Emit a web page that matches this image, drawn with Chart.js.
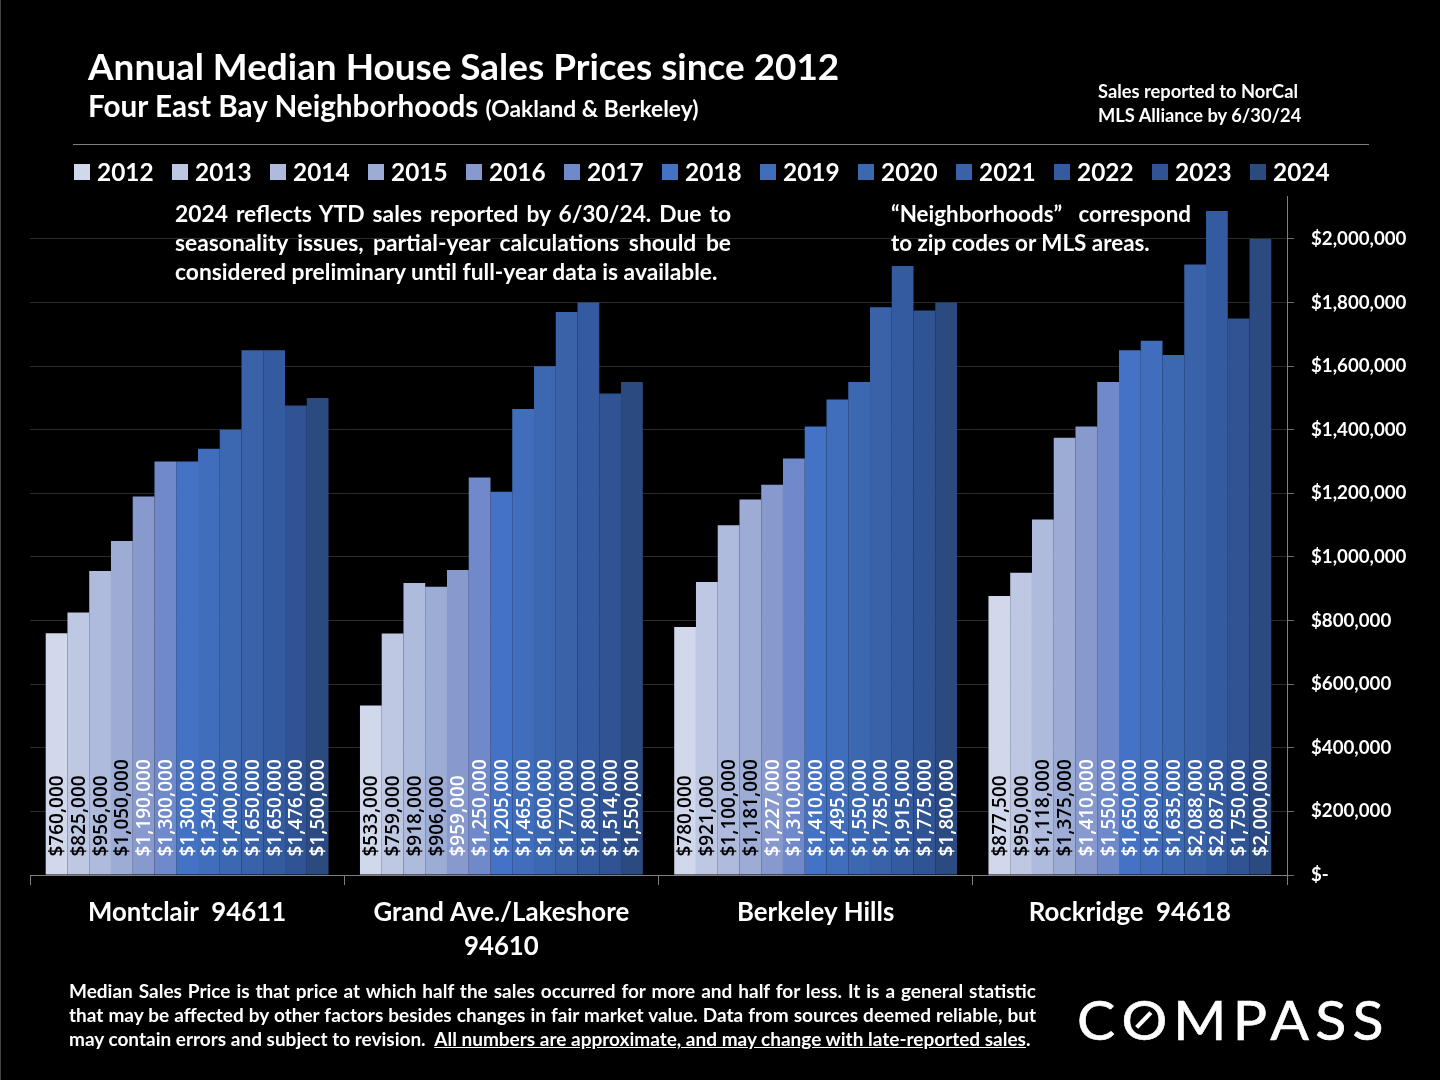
<!DOCTYPE html>
<html>
<head>
<meta charset="utf-8">
<title>Annual Median House Sales Prices since 2012</title>
<script src="https://cdn.jsdelivr.net/npm/chart.js@4"></script>
<style>
  html, body { margin: 0; padding: 0; background: #000; }
  #page { position: relative; width: 1440px; height: 1080px; overflow: hidden; background: #000; color: #fff; font-family: Lato, sans-serif; font-weight: 700; }
  #page::before { content: ""; position: absolute; left: 0; top: 0; bottom: 0; width: 1px; background: #444; }
  canvas { position: absolute; left: 0; top: 0; }
  .txt { position: absolute; white-space: nowrap; }
  .title { left: 88px; top: 44px; font-size: 36.9px; line-height: 44px; }
  .sub { left: 88px; top: 88px; font-size: 29.7px; line-height: 36px; }
  .sub small { font-size: 22.8px; }
  .side { left: 1098px; top: 79px; font-size: 18.3px; line-height: 24px; }
  .rule { position: absolute; left: 73px; top: 144px; width: 1296px; height: 1px; background: #7f7f7f; }
  .note { position: absolute; font-size: 22.8px; line-height: 29px; z-index: 2; }
  .foot { position: absolute; left: 69px; top: 979px; width: 967px; font-size: 19px; line-height: 24px; }
  .jl { text-align: justify; text-align-last: justify; white-space: normal; }
  #legend { position: absolute; left: 0; top: 156px; height: 32px; }
  .item { position: absolute; top: 0; height: 32px; line-height: 32px; font-size: 24.4px; }
  .item i { position: absolute; left: 0; top: 8px; width: 16px; height: 16px; }
  .item span { position: absolute; left: 23px; top: 0; }
  .logo { position: absolute; left: 1077px; top: 985px; font-family: Lato, sans-serif; font-weight: 400; font-size: 54px; line-height: 70px; letter-spacing: 5.8px; white-space: nowrap; transform: scaleX(1.06); transform-origin: left center; -webkit-text-stroke: 0.6px #fff; }
  .logo b { position: relative; font-weight: 400; display: inline-block; }
  .logo b::after { content: ""; position: absolute; left: 50%; top: 50%; width: 20px; height: 4px; margin: -2px 0 0 -13px; background: #fff; transform: rotate(-48deg); }
</style>
</head>
<body>
<div id="page">
  <canvas id="chart" width="1440" height="1080"></canvas>
  <div class="txt title">Annual Median House Sales Prices since 2012</div>
  <div class="txt sub">Four East Bay Neighborhoods <small>(Oakland &amp; Berkeley)</small></div>
  <div class="txt side">Sales reported to NorCal<br>MLS Alliance by 6/30/24</div>
  <div class="rule"></div>
  <div id="legend"></div>
  <div class="note" style="left:175px;top:199px;width:556px">
    <div class="jl">2024 reflects YTD sales reported by 6/30/24. Due to</div>
    <div class="jl">seasonality issues, partial-year calculations should be</div>
    <div>considered preliminary until full-year data is available.</div>
  </div>
  <div class="note" style="left:891px;top:199px;width:300px;font-size:22.4px">
    <div class="jl">“Neighborhoods” correspond</div>
    <div>to zip codes or MLS areas.</div>
  </div>
  <div class="foot">
    <div class="jl">Median Sales Price is that price at which half the sales occurred for more and half for less. It is a general statistic</div>
    <div class="jl">that may be affected by other factors besides changes in fair market value. Data from sources deemed reliable, but</div>
    <div>may contain errors and subject to revision. &nbsp;<u>All numbers are approximate, and may change with late-reported sales</u>.</div>
  </div>
  <div class="logo">C<b>O</b>MPASS</div>
</div>
<script>
const years = ['2012', '2013', '2014', '2015', '2016', '2017', '2018', '2019', '2020', '2021', '2022', '2023', '2024'];
const neighborhoods = ['Montclair  94611', ['Grand Ave./Lakeshore', '94610'], 'Berkeley Hills', 'Rockridge  94618'];
const yearColors = ['#D2D8EB', '#BEC8E3', '#AEBBDD', '#9CACD5', '#8799CD', '#7089CA', '#4472C4', '#406EBC', '#3C67B1', '#3962A9', '#345B9F', '#2F5393', '#2B4A80'];
const yTickValues = [0, 200000, 400000, 600000, 800000, 1000000, 1200000, 1400000, 1600000, 1800000, 2000000];

const montclair = [760000, 825000, 956000, 1050000, 1190000, 1300000, 1300000, 1340000, 1400000, 1650000, 1650000, 1476000, 1500000];
const grandAve = [533000, 759000, 918000, 906000, 959000, 1250000, 1205000, 1465000, 1600000, 1770000, 1800000, 1514000, 1550000];
const berkeleyHills = [780000, 921000, 1100000, 1181000, 1227000, 1310000, 1410000, 1495000, 1550000, 1785000, 1915000, 1775000, 1800000];
const rockridge = [877500, 950000, 1118000, 1375000, 1410000, 1550000, 1650000, 1680000, 1635000, 1920000, 2087500, 1750000, 2000000];
// the printed label for Rockridge 2021 does not match the bar height in the source
const rockridgeLabels = [877500, 950000, 1118000, 1375000, 1410000, 1550000, 1650000, 1680000, 1635000, 2088000, 2087500, 1750000, 2000000];

const groups = [montclair, grandAve, berkeleyHills, rockridge];
const labelGroups = [montclair, grandAve, berkeleyHills, rockridgeLabels];

function money(v) {
  return v === 0 ? '$-' : '$' + v.toLocaleString('en-US');
}

// Vertical value labels sitting at the foot of each bar.
const barLabels = {
  id: 'barLabels',
  afterDatasetsDraw: function (chart) {
    const ctx = chart.ctx;
    chart.data.datasets.forEach(function (ds, i) {
      chart.getDatasetMeta(i).data.forEach(function (bar, j) {
        ctx.save();
        ctx.translate(bar.x, bar.base - 18);
        ctx.rotate(-Math.PI / 2);
        ctx.font = '600 19px "Open Sans", sans-serif';
        ctx.textAlign = 'left';
        ctx.textBaseline = 'middle';
        ctx.fillStyle = i < 4 ? '#000' : '#fff';
        ctx.fillText(money(labelGroups[j][i]), 0, 1);
        ctx.restore();
      });
    });
  }
};

const chart = new Chart(document.getElementById('chart'), {
  type: 'bar',
  data: {
    labels: neighborhoods,
    datasets: years.map(function (year, i) {
      return {
        label: year,
        data: groups.map(function (g) { return g[i]; }),
        backgroundColor: yearColors[i],
        categoryPercentage: 0.9,
        barPercentage: 1
      };
    })
  },
  options: {
    responsive: false,
    animation: false,
    layout: { padding: { left: 30, top: 196, right: 0, bottom: 0 } },
    plugins: { legend: { display: false }, tooltip: { enabled: false } },
    scales: {
      x: {
        afterFit: function (scale) { scale.height = 205; },
        grid: { drawOnChartArea: false, color: '#7f7f7f', tickLength: 10 },
        border: { color: '#7f7f7f' },
        ticks: { color: '#fff', padding: 11, maxRotation: 0, autoSkip: false, font: { family: 'Lato', weight: 'bold', size: 25.8, lineHeight: 1.32 } }
      },
      y: {
        position: 'right',
        min: 0,
        max: 2135000,
        afterFit: function (scale) { scale.width = 153; },
        afterBuildTicks: function (scale) {
          scale.ticks = yTickValues.map(function (v) { return { value: v }; });
        },
        grid: { color: '#2b2b2b', tickColor: '#6f6f6f', tickLength: 7 },
        border: { color: '#7f7f7f' },
        ticks: {
          color: '#fff',
          padding: 17,
          font: { family: 'Lato', weight: 'bold', size: 18.7 },
          callback: function (v) { return money(v); }
        }
      }
    }
  },
  plugins: [barLabels]
});

// Legend row, built from the chart's datasets.
const legend = document.getElementById('legend');
chart.data.datasets.forEach(function (ds, i) {
  const item = document.createElement('div');
  item.className = 'item';
  item.style.left = (74 + i * 98) + 'px';
  item.innerHTML = '<i style="background:' + ds.backgroundColor + '"></i><span>' + ds.label + '</span>';
  legend.appendChild(item);
});
</script>
</body>
</html>
